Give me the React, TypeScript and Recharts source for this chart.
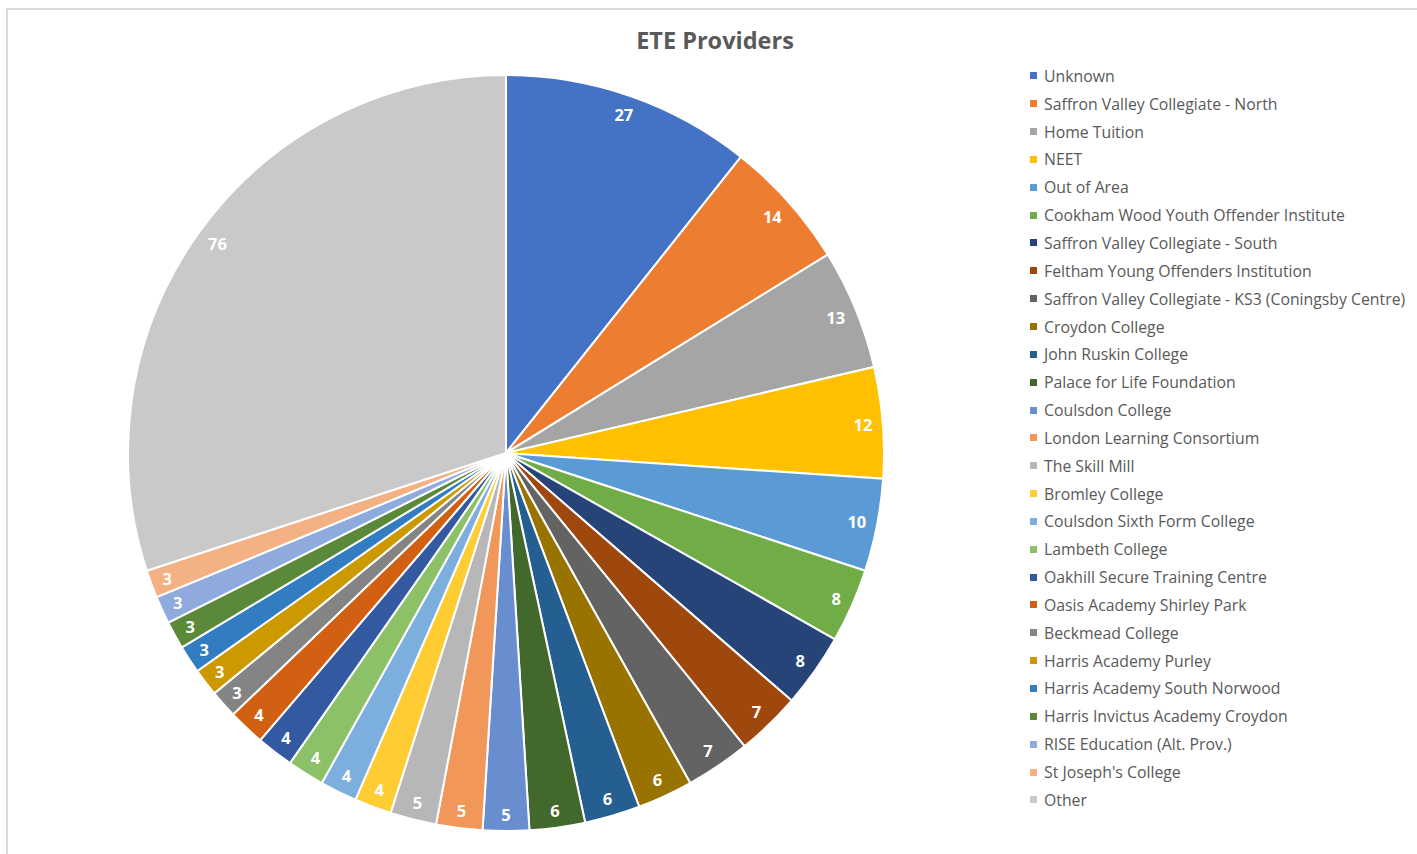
import React from 'react'
import { PieChart, Pie, Cell, Legend } from 'recharts'

const providers = [
  'Unknown',
  'Saffron Valley Collegiate - North',
  'Home Tuition',
  'NEET',
  'Out of Area',
  'Cookham Wood Youth Offender Institute',
  'Saffron Valley Collegiate - South',
  'Feltham Young Offenders Institution',
  'Saffron Valley Collegiate - KS3 (Coningsby Centre)',
  'Croydon College',
  'John Ruskin College',
  'Palace for Life Foundation',
  'Coulsdon College',
  'London Learning Consortium',
  'The Skill Mill',
  'Bromley College',
  'Coulsdon Sixth Form College',
  'Lambeth College',
  'Oakhill Secure Training Centre',
  'Oasis Academy Shirley Park',
  'Beckmead College',
  'Harris Academy Purley',
  'Harris Academy South Norwood',
  'Harris Invictus Academy Croydon',
  'RISE Education (Alt. Prov.)',
  "St Joseph's College",
  'Other',
]

const counts = [27, 14, 13, 12, 10, 8, 8, 7, 7, 6, 6, 6, 5, 5, 5, 4, 4, 4, 4, 4, 3, 3, 3, 3, 3, 3, 76]

const COLORS = [
  '#4472C4', '#ED7D31', '#A5A5A5', '#FFC000', '#5B9BD5', '#70AD47',
  '#264478', '#9E480E', '#636363', '#997300', '#255E91', '#43682B',
  '#698ED0', '#F1975A', '#B7B7B7', '#FFCD33', '#7CAFDD', '#8CC168',
  '#335AA1', '#D26012', '#848484', '#CC9A00', '#327DC2', '#5A8A39',
  '#8FAADC', '#F4B183', '#C9C9C9',
]

const data = providers.map((name, i) => ({ name, value: counts[i] }))

const FONT = '"Open Sans", "Segoe UI", sans-serif'
const RAD = Math.PI / 180

// "inside end" style: push the label box out until it sits just inside the rim
const renderLabel = (props: any) => {
  const { cx, cy, midAngle, outerRadius, value } = props
  const c = Math.cos(-midAngle * RAD)
  const s = Math.sin(-midAngle * RAD)
  const halfW = String(value).length * 4.7
  const halfH = 7
  const r = outerRadius - 10 - Math.abs(c) * halfW - Math.abs(s) * halfH
  return (
    <text x={cx + r * c} y={cy + r * s} fill="#ffffff" textAnchor="middle" dominantBaseline="central"
      fontFamily={FONT} fontSize={16.5} fontWeight={700}>
      {value}
    </text>
  )
}

const renderLegend = () => (
  <div style={{ fontFamily: FONT, fontSize: 15.8, color: '#595959' }}>
    {data.map((d, i) => (
      <div key={d.name} style={{ display: 'flex', alignItems: 'center', height: 27.85 }}>
        <span style={{ width: 7, height: 7, background: COLORS[i], marginRight: 7, flexShrink: 0 }} />
        <span style={{ whiteSpace: 'nowrap' }}>{d.name}</span>
      </div>
    ))}
  </div>
)

export default function App() {
  return (
    <div style={{ position: 'absolute', left: 0, top: 0, width: 1417, height: 854, background: '#fff', overflow: 'hidden' }}>
      <div style={{ position: 'absolute', left: 6, top: 8, width: 1430, height: 860, border: '2px solid #D9D9D9', boxSizing: 'border-box' }} />
      <div style={{ position: 'absolute', left: 0, top: 24, width: 1430, textAlign: 'center', fontFamily: FONT, fontSize: 23.5, fontWeight: 700, color: '#595959' }}>
        ETE Providers
      </div>
      <div style={{ position: 'absolute', left: 0, top: 0 }}>
        <PieChart width={1417} height={854} margin={{ top: 0, right: 0, bottom: 0, left: 0 }}>
          <Pie
            data={data}
            dataKey="value"
            nameKey="name"
            cx={506}
            cy={453}
            outerRadius={378}
            startAngle={90}
            endAngle={-270}
            stroke="#ffffff"
            strokeWidth={2}
            labelLine={false}
            label={renderLabel}
            isAnimationActive={false}
          >
            {data.map((entry, index) => (
              <Cell key={`cell-${index}`} fill={COLORS[index]} />
            ))}
          </Pie>
          <Legend
            layout="vertical"
            align="right"
            verticalAlign="top"
            content={renderLegend}
            wrapperStyle={{ left: 1030, top: 62, width: 390 }}
          />
        </PieChart>
      </div>
    </div>
  )
}
